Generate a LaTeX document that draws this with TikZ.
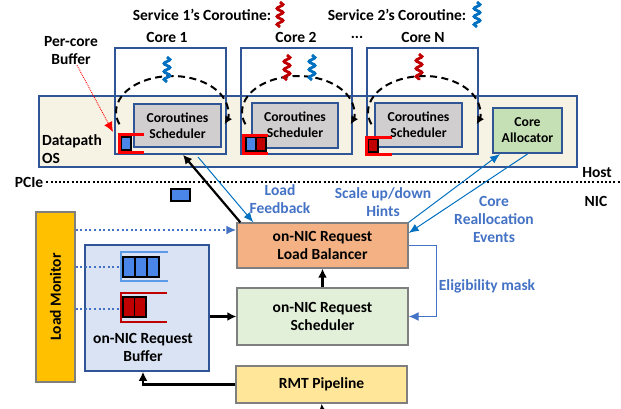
\documentclass[tikz,border=0pt]{standalone}
\usepackage{fontspec}
\setmainfont{Carlito}
\usetikzlibrary{arrows.meta,decorations.pathmorphing}

\definecolor{frameblue}{HTML}{2F5597}
\definecolor{osfill}{HTML}{F7F3E4}
\definecolor{schedgray}{HTML}{D0CECE}
\definecolor{allocgreen}{HTML}{C5E0B4}
\definecolor{lbfill}{HTML}{F4B183}
\definecolor{schfill}{HTML}{E2F0D9}
\definecolor{rmtfill}{HTML}{FFE699}
\definecolor{buffill}{HTML}{DAE3F3}
\definecolor{monfill}{HTML}{FFC000}
\definecolor{edgegray}{HTML}{7F7F7F}
\definecolor{labelblue}{HTML}{4472C4}
\definecolor{linkblue}{HTML}{0070C0}
\definecolor{cellblue}{HTML}{4A86E8}
\definecolor{qblue}{HTML}{5B9BE8}
\definecolor{darkred}{HTML}{C00000}

\tikzset{
  every node/.style={font=\bfseries\fontsize{15.5}{18}\selectfont, inner sep=0pt},
  corebox/.style={draw=frameblue, line width=1.6pt},
  schedbox/.style={draw=frameblue, line width=2pt, fill=schedgray, align=center,
    font=\bfseries\fontsize{13.7}{16}\selectfont},
  nicbox/.style={draw=edgegray, line width=1.3pt, align=center},
  squig/.style={line width=2.8pt, decorate,
    decoration={snake, segment length=8pt, amplitude=3pt}},
  looparc/.style={line width=2pt, dash pattern=on 7pt off 4.5pt, -{Latex[length=8pt,width=8pt]}},
  flow/.style={line width=2.2pt, -{Latex[length=9pt,width=9pt]}},
  hint/.style={linkblue, line width=1pt, -{Latex[length=10pt,width=8pt]}},
  monitor/.style={labelblue, line width=2pt, dash pattern=on 2pt off 2.6pt},
  bluelabel/.style={text=labelblue, align=center},
  redframe/.style={red, line width=3pt},
  cell/.style={draw=black, line width=1.1pt},
}

\begin{document}
\begin{tikzpicture}[x=1pt,y=-1pt]
\useasboundingbox (0,0) rectangle (621,408);

% ---------------- Host side ----------------
\node[draw=frameblue, line width=1.6pt, fill=osfill, minimum width=538pt, minimum height=71pt]
  (os) at (308,131.5) {};
\node[anchor=west, align=left] (oslabel) at (42,149) {Datapath\\OS};

\node[corebox, minimum width=111pt, minimum height=106pt] (core1) at (170.5,101) {};
\node[corebox, minimum width=111pt, minimum height=106pt] (core2) at (296.5,101) {};
\node[corebox, minimum width=111pt, minimum height=106pt] (coren) at (422.5,101) {};

\node (c1label) at (167,37) {Core 1};
\node (c2label) at (296,37) {Core 2};
\node (dots) at (357,37) {...};
\node (cnlabel) at (423,37) {Core N};

\node[schedbox, minimum width=87pt, minimum height=43pt] (s1) at (177.5,125.5) {Coroutines\\Scheduler};
\node[schedbox, minimum width=86pt, minimum height=45pt] (s2) at (295,125) {Coroutines\\Scheduler};
\node[schedbox, minimum width=87pt, minimum height=44pt] (sn) at (418.5,125) {Coroutines\\Scheduler};

\node[draw=frameblue, line width=2pt, fill=allocgreen, minimum width=69pt, minimum height=45pt,
  align=center, font=\bfseries\fontsize{13.7}{16}\selectfont] (ca) at (527.5,130.5) {Core\\Allocator};

% scheduling loops inside each core
\draw[looparc] (119.4,124.3) arc[start angle=160, end angle=380, x radius=56, y radius=36];
\draw[looparc] (245.4,124.3) arc[start angle=160, end angle=380, x radius=56, y radius=36];
\draw[looparc] (371.4,124.3) arc[start angle=160, end angle=380, x radius=56, y radius=36];

% coroutines
\draw[squig, linkblue] (167,57) -- (167,82);
\draw[squig, darkred] (287,55) -- (287,80);
\draw[squig, linkblue] (312,55) -- (312,80);
\draw[squig, darkred] (419,54) -- (419,80);

% legend
\node (leg1) at (202,15) {Service 1’s Coroutine:};
\draw[squig, darkred] (280,2) -- (280,27);
\node (leg2) at (397,15) {Service 2’s Coroutine:};
\draw[squig, linkblue] (477,2) -- (477,27);

% per-core buffers
\draw[redframe] (144,134) -- (119,134) -- (119,152) -- (144,152);
\draw[cell, fill=cellblue] (121.5,137) rectangle (131,150);

\draw[redframe] (268,135) -- (243,135) -- (243,153) -- (268,153);
\draw[cell, fill=cellblue] (246,137.5) rectangle (256,151);
\draw[cell, fill=darkred] (256,137.5) rectangle (266,151);

\draw[redframe] (392,137) -- (366,137) -- (366,154) -- (392,154);
\draw[cell, fill=darkred] (368.5,139.5) rectangle (378,152);

\node[align=center] (pcb) at (71,51) {Per-core\\Buffer};
\draw[red, line width=0.9pt, densely dotted, -{Latex[length=10pt,width=9pt]}]
  (pcb.south) ++(6,0) -- (113,132);

% ---------------- PCIe boundary ----------------
\node (pcie) at (29,182) {PCIe};
\coordinate (pcieend) at (621,182);
\draw[line width=2pt, dash pattern=on 2pt off 2.2pt] (pcie.east) ++(3,0) -- (pcieend);
\node (host) at (597,173) {Host};
\node (nic) at (596,201) {NIC};
\draw[cell, fill=cellblue] (171,189) rectangle (190,201);

% ---------------- NIC side ----------------
\node[nicbox, fill=lbfill, minimum width=171pt, minimum height=45pt] (lb) at (322.5,245.5)
  {on-NIC Request\\Load Balancer};
\node[nicbox, fill=schfill, minimum width=171pt, minimum height=57pt] (sched) at (322.5,316.5)
  {on-NIC Request\\Scheduler};
\node[nicbox, fill=rmtfill, minimum width=171pt, minimum height=37pt] (rmt) at (321.5,384.5)
  {RMT Pipeline};

\node[draw=frameblue, line width=1.6pt, fill=buffill, minimum width=124pt, minimum height=126pt]
  (buf) at (147,308) {};
\node[align=center] (buflabel) at (143,347.5) {on-NIC Request\\Buffer};

\node[draw=edgegray, line width=1.3pt, fill=monfill, minimum width=39pt, minimum height=170pt]
  (lm) at (55.5,297) {};
\node[rotate=90] (lmlabel) at (lm.center) {Load Monitor};

% request queues in the on-NIC buffer
\draw[qblue, line width=2.6pt] (168,252) -- (121,252) -- (121,281) -- (168,281);
\draw[cell, fill=cellblue] (123,257) rectangle (135,277);
\draw[cell, fill=cellblue] (135,257) rectangle (147,277);
\draw[cell, fill=cellblue] (147,257) rectangle (159,277);

\draw[darkred, line width=2.6pt] (167,293) -- (121,293) -- (121,322) -- (167,322);
\draw[cell, fill=darkred] (123,297) rectangle (134.5,317);
\draw[cell, fill=darkred] (134.5,297) rectangle (146,317);

% load monitoring taps
\coordinate (tapq1) at (121,267);
\coordinate (tapq2) at (121,309);
\draw[monitor] (lm.east |- tapq1) -- (tapq1);
\draw[monitor] (lm.east |- tapq2) -- (tapq2);
\draw[monitor, -{Latex[length=10pt,width=9pt]}] (lm.east |- 0,230) -- ([yshift=15.5pt]lb.west);

% data path
\coordinate (feed) at (322.5,412);
\draw[flow] (feed) -- (rmt.south);
\draw[flow] (rmt.west) -| ([xshift=-4pt]buf.south);
\draw[flow] (buf.east |- sched.west) -- (sched.west);
\draw[flow] (sched.north) -- (lb.south);
\draw[flow] ([xshift=4pt]lb.north west) -- ([xshift=12.5pt]core1.south);

% eligibility mask
\draw[labelblue, line width=1.3pt, -{Latex[length=10pt,width=9pt]}]
  (lb.east) -- ++(28,0) |- (sched.east);
\node[bluelabel] (elig) at (487,286) {Eligibility mask};

% load feedback and core allocation
\coordinate (lfstart) at (198,157);
\draw[hint] (lfstart) -- ([xshift=17pt]lb.north west);
\node[bluelabel] (lflabel) at (280,199) {Load\\Feedback};

\draw[hint] (lb.north east) -- ([xshift=8pt]ca.south west);
\node[bluelabel] (sclabel) at (383,202) {Scale up/down\\Hints};

\draw[hint] (ca.south) -- ([yshift=12.5pt]lb.east);
\node[bluelabel] (crlabel) at (494,219) {Core\\Reallocation\\Events};

\end{tikzpicture}
\end{document}
